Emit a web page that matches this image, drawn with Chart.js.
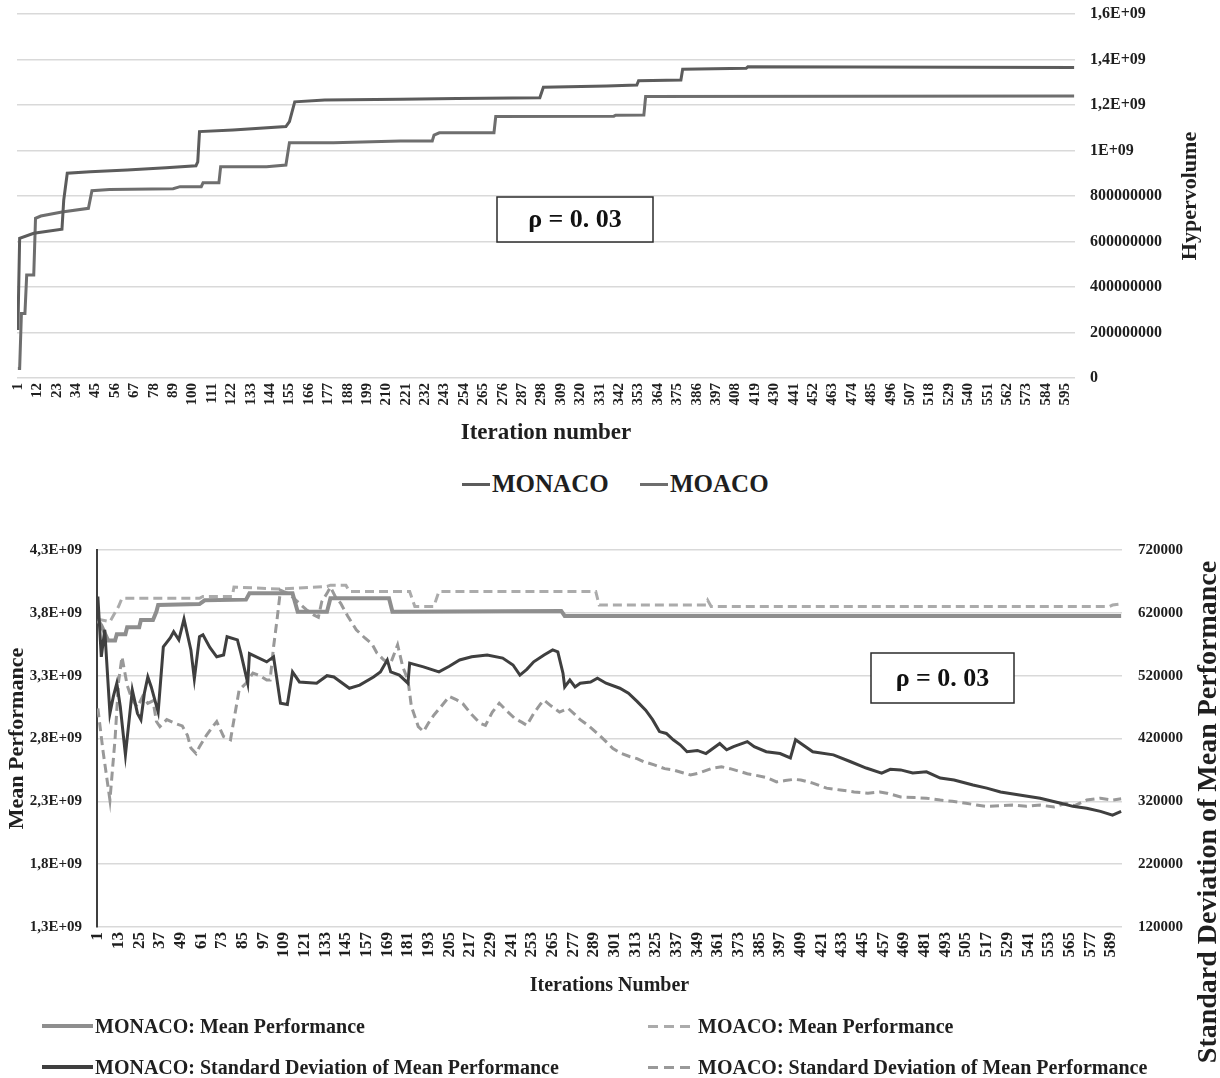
<!DOCTYPE html>
<html>
<head>
<meta charset="utf-8">
<title>Hypervolume and mean performance, MONACO vs MOACO</title>
<script src="https://cdn.jsdelivr.net/npm/chart.js@4.4.1/dist/chart.umd.min.js"></script>
<style>
  html, body { margin: 0; padding: 0; background: #fff; }
  body { width: 1220px; height: 1078px; position: relative; overflow: hidden;
         font-family: "Liberation Serif", "Times New Roman", serif; font-weight: bold; color: #1f1f1f; }
  canvas { display: block; position: absolute; left: 0; }
  #hvChart { top: 0; }
  #perfChart { top: 530px; }
  .item { position: absolute; display: flex; align-items: center; white-space: nowrap; }
  .swatch { display: inline-block; }
  .solid-dark { height: 3px; background: #5c5c5c; }
  .solid-mid { height: 3px; background: #6e6e6e; }
  .perf-mean-monaco { height: 4px; background: #8e8e8e; }
  .perf-std-monaco { height: 4px; background: #3f3f3f; }
  .perf-mean-moaco { height: 3px; background: repeating-linear-gradient(90deg, #ababab 0 10px, transparent 10px 16px); }
  .perf-std-moaco { height: 3px; background: repeating-linear-gradient(90deg, #999999 0 10px, transparent 10px 16px); }
</style>
</head>
<body>
<canvas id="hvChart" width="1220" height="460"></canvas>
<canvas id="perfChart" width="1220" height="548"></canvas>

<!-- legend of the hypervolume chart -->
<div class="item" style="left:462px; top:470px; height:28px; font-size:25px;">
  <span class="swatch solid-dark" style="width:28px;"></span><span style="margin-left:2px;">MONACO</span>
</div>
<div class="item" style="left:640px; top:470px; height:28px; font-size:25px;">
  <span class="swatch solid-mid" style="width:28px;"></span><span style="margin-left:2px;">MOACO</span>
</div>

<!-- legend of the mean performance chart -->
<div class="item" style="left:42px; top:1013px; height:26px; font-size:20px;">
  <span class="swatch perf-mean-monaco" style="width:51px;"></span><span style="margin-left:2px;">MONACO: Mean Performance</span>
</div>
<div class="item" style="left:648px; top:1013px; height:26px; font-size:20px;">
  <span class="swatch perf-mean-moaco" style="width:46px;"></span><span style="margin-left:4px;">MOACO: Mean Performance</span>
</div>
<div class="item" style="left:42px; top:1054px; height:26px; font-size:20px;">
  <span class="swatch perf-std-monaco" style="width:51px;"></span><span style="margin-left:2px;">MONACO: Standard Deviation of Mean Performance</span>
</div>
<div class="item" style="left:648px; top:1054px; height:26px; font-size:20px;">
  <span class="swatch perf-std-moaco" style="width:46px;"></span><span style="margin-left:4px;">MOACO: Standard Deviation of Mean Performance</span>
</div>

<script>
// ---------- Hypervolume per iteration (change points of each run) ----------
const hvMonacoIter = [1, 2, 10, 26, 27, 29, 42, 63, 85, 102, 103, 104, 123, 153, 155, 158, 175, 218, 250, 297, 299, 335, 352, 353, 377, 378, 414, 415, 600];
const hvMonacoVal  = [211e6, 614e6, 636e6, 654e6, 782e6, 900e6, 907e6, 914e6, 924e6, 933e6, 950e6, 1083e6, 1090e6, 1105e6, 1127e6, 1214e6, 1222e6, 1225e6, 1229e6, 1232e6, 1278e6, 1283e6, 1288e6, 1307e6, 1310e6, 1357e6, 1361e6, 1368e6, 1365e6];

const hvMoacoIter = [1, 2, 3, 5, 6, 10, 11, 14, 26, 41, 43, 53, 89, 93, 105, 106, 115, 116, 142, 153, 155, 180, 218, 236, 237, 240, 271, 272, 339, 340, 356, 357, 600];
const hvMoacoVal  = [42e6, 42e6, 284e6, 284e6, 453e6, 453e6, 702e6, 712e6, 730e6, 746e6, 823e6, 829e6, 832e6, 841e6, 841e6, 858e6, 858e6, 929e6, 929e6, 936e6, 1034e6, 1034e6, 1042e6, 1042e6, 1068e6, 1078e6, 1078e6, 1149e6, 1151e6, 1155e6, 1156e6, 1237e6, 1240e6];

const hvYValues = [0, 2e8, 4e8, 6e8, 8e8, 1e9, 1.2e9, 1.4e9, 1.6e9];
const hvYLabels = ['0', '200000000', '400000000', '600000000', '800000000', '1E+09', '1,2E+09', '1,4E+09', '1,6E+09'];
const hvTickFirst = 1, hvTickStep = 11, hvTickLast = 595, hvIterations = 600;

// ---------- Mean performance (left axis) ----------
const meanMonacoIter = [1, 3, 7, 11, 12, 17, 18, 25, 26, 33, 35, 36, 60, 63, 87, 89, 114, 117, 134, 136, 170, 172, 270, 272, 595];
const meanMonacoVal  = [3.74e9, 3.70e9, 3.58e9, 3.58e9, 3.63e9, 3.63e9, 3.685e9, 3.685e9, 3.743e9, 3.743e9, 3.81e9, 3.862e9, 3.87e9, 3.90e9, 3.905e9, 3.955e9, 3.955e9, 3.809e9, 3.809e9, 3.916e9, 3.916e9, 3.809e9, 3.815e9, 3.775e9, 3.775e9];

const meanMoacoIter = [1, 8, 13, 15, 60, 62, 79, 80, 106, 134, 136, 145, 147, 182, 185, 196, 199, 290, 292, 354, 355, 357, 588, 590, 595];
const meanMoacoVal  = [3.75e9, 3.73e9, 3.85e9, 3.916e9, 3.916e9, 3.93e9, 3.93e9, 4.005e9, 3.99e9, 4.01e9, 4.02e9, 4.02e9, 3.97e9, 3.97e9, 3.85e9, 3.85e9, 3.97e9, 3.97e9, 3.862e9, 3.862e9, 3.90e9, 3.85e9, 3.85e9, 3.862e9, 3.87e9];

// ---------- Standard deviation of mean performance (right axis) ----------
const stdMonacoIter = [1, 3, 5, 8, 10, 12, 14, 17, 21, 24, 26, 28, 30, 32, 36, 39, 43, 45, 48, 51, 55, 57, 60, 62, 66, 70, 74, 76, 82, 84, 88, 89, 99, 103, 107, 111, 114, 118, 128, 134, 138, 147, 153, 161, 165, 169, 171, 176, 181, 182, 190, 199, 205, 211, 218, 227, 236, 242, 246, 250, 254, 260, 265, 268, 271, 272, 275, 278, 281, 287, 291, 296, 304, 309, 314, 319, 323, 327, 331, 335, 339, 343, 349, 354, 362, 366, 370, 378, 382, 389, 397, 403, 406, 416, 428, 438, 447, 456, 461, 467, 474, 482, 490, 498, 509, 517, 525, 536, 548, 560, 567, 575, 583, 590, 595];
const stdMonacoVal  = [646e3, 550e3, 593e3, 460e3, 487e3, 508e3, 471e3, 394e3, 497e3, 460e3, 450e3, 492e3, 518e3, 502e3, 462e3, 566e3, 580e3, 590e3, 577e3, 610e3, 561e3, 515e3, 582e3, 585e3, 565e3, 550e3, 553e3, 582e3, 577e3, 556e3, 508e3, 555e3, 542e3, 550e3, 476e3, 474e3, 526e3, 510e3, 508e3, 520e3, 518e3, 500e3, 505e3, 518e3, 526e3, 545e3, 526e3, 521e3, 508e3, 540e3, 534e3, 526e3, 535e3, 545e3, 550e3, 553e3, 548e3, 537e3, 521e3, 530e3, 542e3, 553e3, 561e3, 558e3, 524e3, 502e3, 513e3, 502e3, 508e3, 510e3, 516e3, 508e3, 500e3, 492e3, 479e3, 465e3, 450e3, 431e3, 428e3, 418e3, 410e3, 399e3, 401e3, 396e3, 412e3, 402e3, 407e3, 415e3, 407e3, 399e3, 396e3, 389e3, 418e3, 399e3, 394e3, 383e3, 373e3, 365e3, 371e3, 370e3, 365e3, 367e3, 357e3, 354e3, 346e3, 341e3, 335e3, 330e3, 325e3, 317e3, 312e3, 309e3, 304e3, 298e3, 304e3];

const stdMoacoIter = [1, 4, 8, 11, 13, 15, 18, 21, 24, 27, 30, 33, 35, 37, 41, 45, 50, 53, 55, 58, 60, 64, 68, 70, 74, 78, 80, 83, 87, 91, 95, 99, 101, 103, 105, 107, 112, 118, 122, 126, 129, 131, 134, 136, 139, 142, 146, 151, 156, 160, 163, 167, 171, 175, 178, 181, 183, 187, 190, 193, 196, 200, 205, 209, 213, 218, 223, 226, 230, 234, 238, 243, 247, 250, 254, 258, 260, 264, 269, 274, 278, 281, 286, 291, 296, 300, 305, 310, 314, 318, 324, 330, 335, 341, 345, 350, 355, 358, 363, 368, 373, 378, 382, 389, 395, 400, 405, 409, 416, 424, 432, 440, 448, 455, 459, 467, 475, 482, 490, 497, 505, 511, 517, 525, 532, 540, 548, 556, 563, 568, 575, 583, 590, 595];
const stdMoacoVal  = [468e3, 400e3, 322e3, 420e3, 510e3, 550e3, 505e3, 481e3, 470e3, 487e3, 476e3, 480e3, 447e3, 439e3, 450e3, 445e3, 440e3, 425e3, 405e3, 396e3, 407e3, 425e3, 440e3, 447e3, 423e3, 418e3, 450e3, 497e3, 508e3, 524e3, 520e3, 513e3, 513e3, 566e3, 609e3, 656e3, 650e3, 635e3, 625e3, 617e3, 613e3, 638e3, 651e3, 661e3, 645e3, 635e3, 615e3, 593e3, 580e3, 571e3, 556e3, 545e3, 540e3, 569e3, 534e3, 513e3, 471e3, 439e3, 431e3, 445e3, 457e3, 470e3, 487e3, 482e3, 475e3, 458e3, 444e3, 441e3, 462e3, 476e3, 465e3, 452e3, 446e3, 441e3, 460e3, 475e3, 481e3, 472e3, 462e3, 468e3, 458e3, 450e3, 440e3, 428e3, 415e3, 404e3, 396e3, 391e3, 388e3, 383e3, 378e3, 372e3, 370e3, 365e3, 362e3, 365e3, 370e3, 373e3, 375e3, 372e3, 368e3, 364e3, 362e3, 358e3, 351e3, 353e3, 355e3, 354e3, 349e3, 341e3, 338e3, 335e3, 333e3, 335e3, 333e3, 327e3, 326e3, 325e3, 322e3, 320e3, 317e3, 314e3, 312e3, 313e3, 314e3, 312e3, 314e3, 311e3, 317e3, 313e3, 322e3, 325e3, 322e3, 324e3];

const perfLeftValues  = [1.3e9, 1.8e9, 2.3e9, 2.8e9, 3.3e9, 3.8e9, 4.3e9];
const perfLeftLabels  = ['1,3E+09', '1,8E+09', '2,3E+09', '2,8E+09', '3,3E+09', '3,8E+09', '4,3E+09'];
const perfRightValues = [120000, 220000, 320000, 420000, 520000, 620000, 720000];
const perfRightLabels = ['120000', '220000', '320000', '420000', '520000', '620000', '720000'];
const perfTickFirst = 1, perfTickStep = 12, perfTickLast = 589, perfIterations = 595;

// ---------- helpers ----------
const toPoints = (xs, ys) => xs.map((x, k) => ({ x: x, y: ys[k] }));
const tickRange = (first, step, last) => { const out = []; for (let v = first; v <= last; v += step) out.push(v); return out; };
const serif = (size) => ({ family: '"Liberation Serif", "Times New Roman", serif', weight: 'bold', size: size });
const INK = '#1f1f1f';
const GRID = '#d9d9d9';

// A value axis whose box has a fixed width and adds no extra room above/below the plot
const fixedWidth = (w) => (s) => { s.width = w; s.paddingTop = 0; s.paddingBottom = 0; };

// Framed label boxes and right-hand titles that read bottom-to-top
const overlayText = {
  id: 'overlayText',
  afterDraw(chart, args, opts) {
    const ctx = chart.ctx;
    (opts.boxes || []).forEach(b => {
      ctx.save();
      ctx.fillStyle = '#ffffff';
      ctx.fillRect(b.x, b.y, b.w, b.h);
      ctx.strokeStyle = '#2b2b2b';
      ctx.lineWidth = 1.5;
      ctx.strokeRect(b.x, b.y, b.w, b.h);
      ctx.font = b.font;
      ctx.fillStyle = '#111111';
      ctx.textAlign = 'center';
      ctx.textBaseline = 'middle';
      ctx.fillText(b.text, b.x + b.w / 2, b.y + b.h / 2 + 1);
      ctx.restore();
    });
    (opts.titles || []).forEach(t => {
      ctx.save();
      ctx.translate(t.x, t.y);
      ctx.rotate(-Math.PI / 2);
      ctx.font = t.font;
      ctx.fillStyle = INK;
      ctx.textAlign = 'center';
      ctx.textBaseline = 'middle';
      ctx.fillText(t.text, 0, 0);
      ctx.restore();
    });
  }
};

// ---------- Chart 1: hypervolume ----------
const hvTicks = tickRange(hvTickFirst, hvTickStep, hvTickLast);
new Chart(document.getElementById('hvChart'), {
  type: 'line',
  data: {
    datasets: [
      { label: 'MONACO', data: toPoints(hvMonacoIter, hvMonacoVal), borderColor: '#5c5c5c', borderWidth: 3, pointRadius: 0, tension: 0, yAxisID: 'y' },
      { label: 'MOACO', data: toPoints(hvMoacoIter, hvMoacoVal), borderColor: '#6e6e6e', borderWidth: 3, pointRadius: 0, tension: 0, yAxisID: 'y' }
    ]
  },
  options: {
    responsive: false, animation: false, devicePixelRatio: 1,
    layout: { padding: { left: 17, top: 14, right: 0, bottom: 0 } },
    plugins: {
      legend: { display: false }, tooltip: { enabled: false },
      overlayText: {
        boxes: [{ x: 497, y: 197, w: 156, h: 45, text: 'ρ = 0. 03', font: 'bold 26px "Liberation Serif", serif' }],
        titles: [{ x: 1190, y: 196, text: 'Hypervolume', font: 'bold 22px "Liberation Serif", serif' }]
      }
    },
    scales: {
      x: {
        type: 'linear', min: 0.5, max: hvIterations + 0.5,
        grid: { display: false, drawTicks: false }, border: { display: false },
        afterBuildTicks: s => { s.ticks = hvTicks.map(v => ({ value: v })); },
        afterFit: s => { s.height = 82; },
        ticks: { autoSkip: false, minRotation: 90, maxRotation: 90, padding: 5, color: INK, font: serif(15), callback: v => String(v) },
        title: { display: true, text: 'Iteration number', color: INK, font: serif(23), padding: { top: 0, bottom: 13 } }
      },
      y: {
        position: 'right', min: 0, max: 1.6e9,
        grid: { color: GRID, lineWidth: 1.5, drawTicks: false }, border: { display: false },
        afterBuildTicks: s => { s.ticks = hvYValues.map(v => ({ value: v })); },
        afterFit: fixedWidth(145),
        ticks: { padding: 15, color: INK, font: serif(16), callback: v => hvYLabels[hvYValues.indexOf(v)] }
      }
    }
  },
  plugins: [overlayText]
});

// ---------- Chart 2: mean performance and its standard deviation ----------
const perfTicks = tickRange(perfTickFirst, perfTickStep, perfTickLast);
new Chart(document.getElementById('perfChart'), {
  type: 'line',
  data: {
    datasets: [
      { label: 'MONACO: Mean Performance', data: toPoints(meanMonacoIter, meanMonacoVal), borderColor: '#8e8e8e', borderWidth: 4, pointRadius: 0, tension: 0, yAxisID: 'y', order: 1 },
      { label: 'MOACO: Mean Performance', data: toPoints(meanMoacoIter, meanMoacoVal), borderColor: '#ababab', borderWidth: 3, borderDash: [9, 5], pointRadius: 0, tension: 0, yAxisID: 'y', order: 3 },
      { label: 'MONACO: Standard Deviation of Mean Performance', data: toPoints(stdMonacoIter, stdMonacoVal), borderColor: '#3f3f3f', borderWidth: 3, pointRadius: 0, tension: 0, yAxisID: 'y1', order: 0 },
      { label: 'MOACO: Standard Deviation of Mean Performance', data: toPoints(stdMoacoIter, stdMoacoVal), borderColor: '#999999', borderWidth: 3, borderDash: [9, 5], pointRadius: 0, tension: 0, yAxisID: 'y1', order: 2 }
    ]
  },
  options: {
    responsive: false, animation: false, devicePixelRatio: 1,
    layout: { padding: { left: 0, top: 20, right: 0, bottom: 78 } },
    plugins: {
      legend: { display: false }, tooltip: { enabled: false },
      overlayText: {
        boxes: [{ x: 871, y: 123, w: 143, h: 50, text: 'ρ = 0. 03', font: 'bold 26px "Liberation Serif", serif' }],
        titles: [{ x: 1209, y: 282, text: 'Standard Deviation of Mean Performance', font: 'bold 28px "Liberation Serif", serif' }]
      }
    },
    scales: {
      x: {
        type: 'linear', min: 0.5, max: perfIterations + 0.5,
        grid: { display: false, drawTicks: false }, border: { display: false },
        afterBuildTicks: s => { s.ticks = perfTicks.map(v => ({ value: v })); },
        afterFit: s => { s.height = 73; },
        ticks: { autoSkip: false, minRotation: 90, maxRotation: 90, padding: 5, color: INK, font: serif(17), callback: v => String(v) },
        title: { display: true, text: 'Iterations Number', color: INK, font: serif(20), padding: { top: 0, bottom: 2 } }
      },
      y: {
        position: 'left', min: 1.3e9, max: 4.3e9,
        grid: { color: GRID, lineWidth: 1.5, drawTicks: false },
        border: { display: true, color: '#3f3f3f', width: 2 },
        afterBuildTicks: s => { s.ticks = perfLeftValues.map(v => ({ value: v })); },
        afterFit: fixedWidth(97),
        ticks: { padding: 15, color: INK, font: serif(15), callback: v => perfLeftLabels[perfLeftValues.indexOf(v)] },
        title: { display: true, text: 'Mean Performance', color: INK, font: serif(22), padding: { top: 4, bottom: 0 } }
      },
      y1: {
        position: 'right', min: 120000, max: 720000,
        grid: { display: false, drawTicks: false }, border: { display: false },
        afterBuildTicks: s => { s.ticks = perfRightValues.map(v => ({ value: v })); },
        afterFit: fixedWidth(98),
        ticks: { padding: 16, color: INK, font: serif(15), callback: v => perfRightLabels[perfRightValues.indexOf(v)] }
      }
    }
  },
  plugins: [overlayText]
});
</script>
</body>
</html>
